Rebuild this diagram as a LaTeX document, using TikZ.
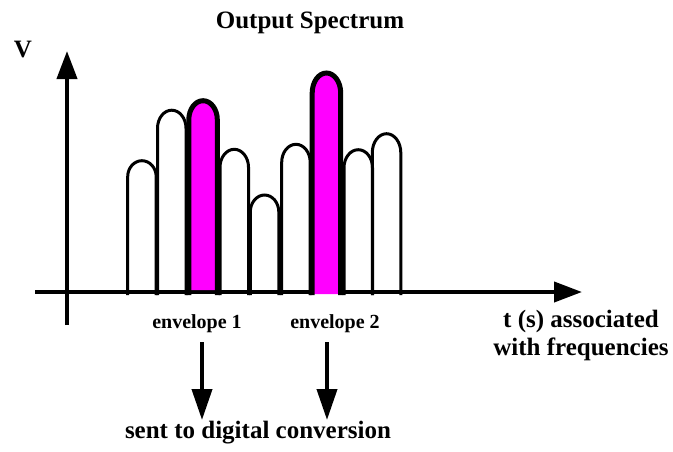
\documentclass[tikz,border=0pt]{standalone}
\usepackage{fontspec}
\setmainfont{Liberation Serif}
\usetikzlibrary{arrows.meta}
\definecolor{mag}{RGB}{255,0,255}
\tikzset{
  axisline/.style={line width=4pt, -{Triangle[length=28pt,width=20pt]}},
  downarrow/.style={line width=4pt, -{Triangle[length=31pt,width=20pt]}},
  bumpline/.style={line width=3pt},
  hotline/.style={line width=5pt},
  bigtext/.style={font=\bfseries\fontsize{25}{28}\selectfont, inner sep=0pt},
  smalltext/.style={font=\bfseries\fontsize{20}{24}\selectfont, inner sep=0pt},
}
\newcommand{\bumpshape}[4]{% left, top, yradius, bottom
  (#1,#4) -- (#1,{#2+#3}) arc[start angle=180,end angle=0,x radius=14.25pt,y radius=#3 pt] -- ({#1+28.5},#4)}
\begin{document}
\begin{tikzpicture}[x=1pt,y=-1pt]
\useasboundingbox (0,0) rectangle (673,451);
% title and labels
\node[bigtext, anchor=base] (title) at (310,28) {Output Spectrum};
\node[bigtext, anchor=base] (vlab) at (23,57) {V};
% axes
\coordinate (ybot) at (67,325);
\coordinate (ytop) at (67,51);
\coordinate (xleft) at (35,292);
\coordinate (xright) at (582,292);
\draw[axisline] (ybot) -- (ytop);
\draw[axisline] (xleft) -- (xright);
% bumps
\draw[bumpline] \bumpshape{127.7}{160.7}{16}{295};
\draw[bumpline] \bumpshape{157.5}{110.2}{18}{295};
\draw[bumpline] \bumpshape{220}{149.3}{18}{295};
\draw[bumpline] \bumpshape{250.3}{195}{17}{295};
\draw[bumpline] \bumpshape{281.7}{144.3}{18}{295};
\draw[bumpline] \bumpshape{344}{149.7}{18}{295};
\draw[bumpline] \bumpshape{372.3}{133.7}{19}{295};
% highlighted envelopes
\fill[mag] \bumpshape{188.8}{100.7}{19}{290} -- cycle;
\draw[hotline] \bumpshape{188.8}{100.7}{19}{295};
\fill[mag] \bumpshape{312.2}{73}{20}{294} -- cycle;
\draw[hotline] \bumpshape{312.2}{73}{20}{295};
% envelope labels
\node[smalltext, anchor=base] (env1) at (197,328) {envelope 1};
\node[smalltext, anchor=base] (env2) at (335,328) {envelope 2};
\node[bigtext, anchor=north, align=center] (tlab) at (581,309.7) {t (s) associated\\with frequencies};
\node[bigtext, anchor=base] (sent) at (258,438) {sent to digital conversion};
% arrows
\coordinate (a1s) at (202,342);
\coordinate (a1e) at (202,420);
\coordinate (a2s) at (327,342);
\coordinate (a2e) at (327,420);
\draw[downarrow] (a1s) -- (a1e);
\draw[downarrow] (a2s) -- (a2e);
\end{tikzpicture}
\end{document}
